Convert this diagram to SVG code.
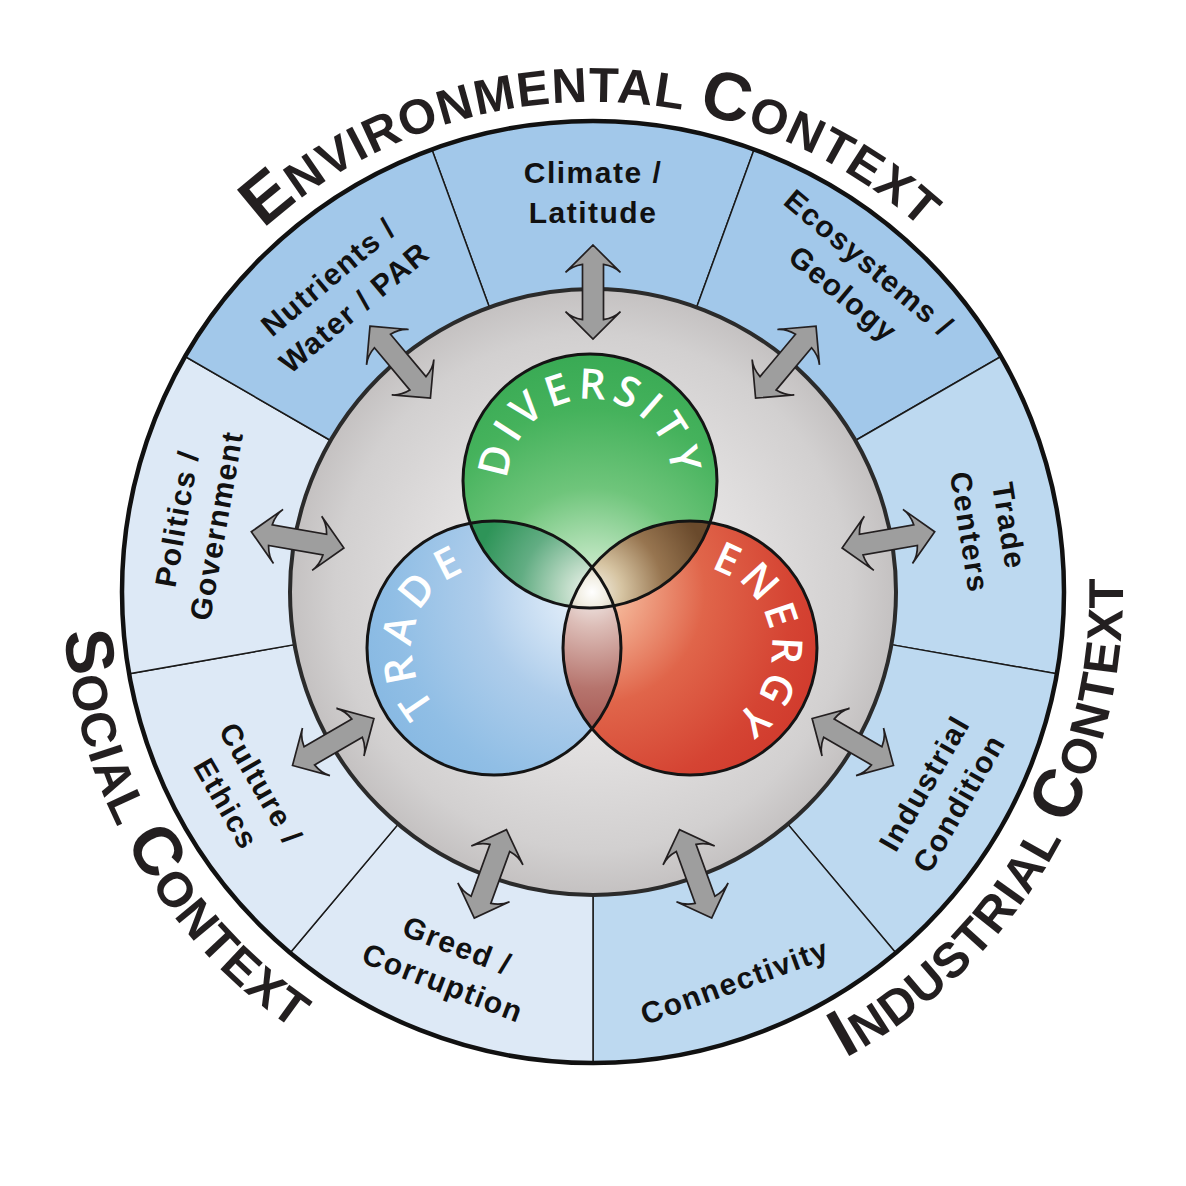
<svg xmlns="http://www.w3.org/2000/svg" width="1186" height="1186" viewBox="0 0 1186 1186">
<defs>
<style>
.seg{stroke:#1a1a1a;stroke-width:1.5}
.env{fill:#a2c8ea}
.ind{fill:#bdd9f0}
.soc{fill:#dde9f6}
.lbl{font-family:"Liberation Sans",Arial,sans-serif;font-weight:bold;font-size:30px;letter-spacing:1.5px;fill:#111;text-anchor:middle}
.ctx{font-family:"Liberation Sans",Arial,sans-serif;font-weight:bold;font-size:49px;letter-spacing:1.2px;fill:#231f20}
.big{font-size:68px}
.venn{font-family:"Open Sans","Liberation Sans",sans-serif;font-weight:600;font-size:42px;fill:#fff}
.arrow{fill:#9e9e9e;stroke:#231f20;stroke-width:1.7;stroke-linejoin:miter}
.vline{fill:none;stroke:#141414;stroke-width:3}
</style>
<radialGradient id="gGray" gradientUnits="userSpaceOnUse" cx="593" cy="592" r="303">
<stop offset="0" stop-color="#f7f6f6"/><stop offset="0.55" stop-color="#e0dede"/><stop offset="0.85" stop-color="#d2d0d0"/><stop offset="1" stop-color="#c4c1c1"/>
</radialGradient>
<radialGradient id="gG" gradientUnits="userSpaceOnUse" cx="592" cy="592" r="260">
<stop offset="0" stop-color="#eaf7ea"/><stop offset="0.12" stop-color="#c0e6c2"/><stop offset="0.4" stop-color="#6fc57b"/><stop offset="0.7" stop-color="#45b25c"/><stop offset="1" stop-color="#34a751"/>
</radialGradient>
<radialGradient id="gB" gradientUnits="userSpaceOnUse" cx="592" cy="592" r="250">
<stop offset="0" stop-color="#f6f9fd"/><stop offset="0.15" stop-color="#d9e8f7"/><stop offset="0.45" stop-color="#aecdeb"/><stop offset="0.8" stop-color="#90bee5"/><stop offset="1" stop-color="#86b8e2"/>
</radialGradient>
<radialGradient id="gR" gradientUnits="userSpaceOnUse" cx="592" cy="592" r="250">
<stop offset="0" stop-color="#fdf0ea"/><stop offset="0.12" stop-color="#f4b496"/><stop offset="0.45" stop-color="#e0654a"/><stop offset="0.8" stop-color="#d54433"/><stop offset="1" stop-color="#d0392c"/>
</radialGradient>
<radialGradient id="gGB" gradientUnits="userSpaceOnUse" cx="592" cy="592" r="120">
<stop offset="0" stop-color="#f2f6f0"/><stop offset="0.25" stop-color="#b8d8c2"/><stop offset="0.6" stop-color="#62ad83"/><stop offset="1" stop-color="#2e9458"/>
</radialGradient>
<radialGradient id="gGR" gradientUnits="userSpaceOnUse" cx="592" cy="592" r="120">
<stop offset="0" stop-color="#f6f2e8"/><stop offset="0.25" stop-color="#d6c4a2"/><stop offset="0.6" stop-color="#977550"/><stop offset="1" stop-color="#6a4a2c"/>
</radialGradient>
<radialGradient id="gBR" gradientUnits="userSpaceOnUse" cx="592" cy="592" r="175">
<stop offset="0" stop-color="#f4eeec"/><stop offset="0.2" stop-color="#dcbdb7"/><stop offset="0.55" stop-color="#b6746d"/><stop offset="1" stop-color="#9a443f"/>
</radialGradient>
<radialGradient id="gT" gradientUnits="userSpaceOnUse" cx="592" cy="592" r="40">
<stop offset="0" stop-color="#ffffff"/><stop offset="0.35" stop-color="#f2efe4"/><stop offset="1" stop-color="#c4bca6"/>
</radialGradient>
<clipPath id="cG"><circle cx="590" cy="481" r="127"/></clipPath>
<clipPath id="cB"><circle cx="494" cy="648" r="127"/></clipPath>
<clipPath id="cR"><circle cx="690" cy="648" r="127"/></clipPath>
<path id="arr" class="arrow" d="M47,0 L19.6,27.5 Q26,21 27.6,10.5 L-27.6,10.5 Q-26,21 -19.6,27.5 L-47,0 L-19.6,-27.5 Q-26,-21 -27.6,-10.5 L27.6,-10.5 Q26,-21 19.6,-27.5 Z"/>
<path id="pEnv" d="M110.44,506.91 A490,490 0 0 1 1075.56,506.91"/>
<path id="pSoc" d="M252.32,186 A530,530 0 0 0 774.27,1090.04"/>
<path id="pInd" d="M411.73,1090.04 A530,530 0 0 0 933.68,186"/>
<path id="pDiv" d="M575.76,561.75 A82,82 0 1 1 604.24,561.75"/>
<path id="pTra" d="M568.62,682 A82,82 0 1 1 575.75,654.43"/>
<path id="pEne" d="M608.08,644.42 A82,82 0 1 1 611.79,672.66"/>
</defs>
<rect width="1186" height="1186" fill="#fff"/>

<g id="climate-latitude">
<path class="seg env" d="M489.37,307.27 L431.91,149.41 A471,471 0 0 1 754.09,149.41 L696.63,307.27 A303,303 0 0 0 489.37,307.27 Z"/>
<g class="lbl" transform="translate(593,192)"><text y="-9">Climate /</text><text y="31">Latitude</text></g>
</g>
<g id="ecosystems-geology">
<path class="seg env" d="M696.63,307.27 L754.09,149.41 A471,471 0 0 1 1000.9,356.5 L855.41,440.5 A303,303 0 0 0 696.63,307.27 Z"/>
<g class="lbl" transform="translate(856.5,277.9) rotate(40)"><text y="-9">Ecosystems /</text><text y="31">Geology</text></g>
</g>
<g id="trade-centers">
<path class="seg ind" d="M855.41,440.5 L1000.9,356.5 A471,471 0 0 1 1056.85,673.79 L891.4,644.62 A303,303 0 0 0 855.41,440.5 Z"/>
<g class="lbl" transform="translate(990,529) rotate(81)"><text y="-9">Trade</text><text y="31">Centers</text></g>
</g>
<g id="industrial-condition">
<path class="seg ind" d="M891.4,644.62 L1056.85,673.79 A471,471 0 0 1 895.75,952.8 L787.77,824.11 A303,303 0 0 0 891.4,644.62 Z"/>
<g class="lbl" transform="translate(941.1,793) rotate(-60)"><text y="-9">Industrial</text><text y="31">Condition</text></g>
</g>
<g id="connectivity">
<path class="seg ind" d="M787.77,824.11 L895.75,952.8 A471,471 0 0 1 593,1063 L593,895 A303,303 0 0 0 787.77,824.11 Z"/>
<g class="lbl" transform="translate(734.6,981) rotate(-20)"><text y="11">Connectivity</text></g>
</g>
<g id="greed-corruption">
<path class="seg soc" d="M593,895 L593,1063 A471,471 0 0 1 290.25,952.8 L398.23,824.11 A303,303 0 0 0 593,895 Z"/>
<g class="lbl" transform="translate(450.4,963.6) rotate(21)"><text y="-9">Greed /</text><text y="31">Corruption</text></g>
</g>
<g id="culture-ethics">
<path class="seg soc" d="M398.23,824.11 L290.25,952.8 A471,471 0 0 1 129.15,673.79 L294.6,644.62 A303,303 0 0 0 398.23,824.11 Z"/>
<g class="lbl" transform="translate(244,793.5) rotate(60)"><text y="-9">Culture /</text><text y="31">Ethics</text></g>
</g>
<g id="politics-government">
<path class="seg soc" d="M294.6,644.62 L129.15,673.79 A471,471 0 0 1 185.1,356.5 L330.59,440.5 A303,303 0 0 0 294.6,644.62 Z"/>
<g class="lbl" transform="translate(196.1,522) rotate(-80)"><text y="-9">Politics /</text><text y="31">Government</text></g>
</g>
<g id="nutrients-water-par">
<path class="seg env" d="M330.59,440.5 L185.1,356.5 A471,471 0 0 1 431.91,149.41 L489.37,307.27 A303,303 0 0 0 330.59,440.5 Z"/>
<g class="lbl" transform="translate(341,291.7) rotate(-40)"><text y="-9">Nutrients /</text><text y="31">Water / PAR</text></g>
</g>

<circle cx="593" cy="592" r="471" fill="none" stroke="#111" stroke-width="4.5"/>

<g id="context-labels">
<text class="ctx"><textPath href="#pEnv" startOffset="50%" text-anchor="middle"><tspan class="big">E</tspan>NVIRONMENTAL <tspan class="big">C</tspan>ONTEXT</textPath></text>
<text class="ctx"><textPath href="#pSoc" startOffset="50%" text-anchor="middle"><tspan class="big">S</tspan>OCIAL <tspan class="big">C</tspan>ONTEXT</textPath></text>
<text class="ctx"><textPath href="#pInd" startOffset="50%" text-anchor="middle"><tspan class="big">I</tspan>NDUSTRIAL <tspan class="big">C</tspan>ONTEXT</textPath></text>
</g>

<g id="core">
<circle cx="593" cy="592" r="303" fill="url(#gGray)" stroke="#2b2b2b" stroke-width="4"/>
</g>

<g id="venn">
<g id="diversity"><circle cx="590" cy="481" r="127" fill="url(#gG)"/></g>
<g id="trade"><circle cx="494" cy="648" r="127" fill="url(#gB)"/></g>
<g id="energy"><circle cx="690" cy="648" r="127" fill="url(#gR)"/></g>
<g id="overlaps">
<circle cx="590" cy="481" r="127" fill="url(#gGB)" clip-path="url(#cB)"/>
<circle cx="590" cy="481" r="127" fill="url(#gGR)" clip-path="url(#cR)"/>
<circle cx="494" cy="648" r="127" fill="url(#gBR)" clip-path="url(#cR)"/>
<g clip-path="url(#cR)"><circle cx="590" cy="481" r="127" fill="url(#gT)" clip-path="url(#cB)"/></g>
</g>
<g id="venn-outlines">
<circle class="vline" cx="590" cy="481" r="127"/>
<circle class="vline" cx="494" cy="648" r="127"/>
<circle class="vline" cx="690" cy="648" r="127"/>
</g>
<g id="venn-labels">
<text class="venn" letter-spacing="5.5"><textPath href="#pDiv" startOffset="50%" text-anchor="middle">DIVERSITY</textPath></text>
<text class="venn" letter-spacing="7.5"><textPath href="#pTra" startOffset="50%" text-anchor="middle">TRADE</textPath></text>
<text class="venn" letter-spacing="5.5"><textPath href="#pEne" startOffset="50%" text-anchor="middle">ENERGY</textPath></text>
</g>
</g>

<g id="connectors">
<use href="#arr" transform="translate(593,292) rotate(-90)"/>
<use href="#arr" transform="translate(785.8,362.2) rotate(-50)"/>
<use href="#arr" transform="translate(888.4,539.9) rotate(-10)"/>
<use href="#arr" transform="translate(852.8,742) rotate(30)"/>
<use href="#arr" transform="translate(695.6,873.9) rotate(70)"/>
<use href="#arr" transform="translate(490.4,873.9) rotate(110)"/>
<use href="#arr" transform="translate(333.2,742) rotate(150)"/>
<use href="#arr" transform="translate(297.6,539.9) rotate(190)"/>
<use href="#arr" transform="translate(400.2,362.2) rotate(230)"/>
</g>
</svg>
